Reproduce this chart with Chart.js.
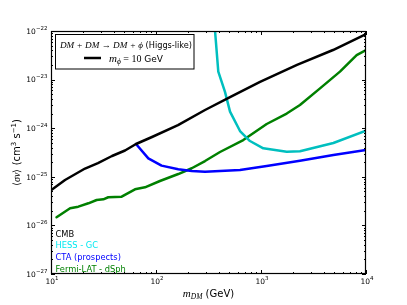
<!DOCTYPE html>
<html>
<head>
<meta charset="utf-8">
<script src="https://cdn.jsdelivr.net/npm/chart.js@4"></script>
<style>
  html, body { margin: 0; padding: 0; background: #fff; }
</style>
</head>
<body>
<canvas id="chart" width="407" height="305"></canvas>
<script>
// --- DATA ---
const xTicks = [10, 100, 1000, 10000];
const xTickExp = [1, 2, 3, 4];
const yTicks = [1e-27, 1e-26, 1e-25, 1e-24, 1e-23, 1e-22];
const yTickExp = [-27, -26, -25, -24, -23, -22];

const cmbMass  = [10, 13.6, 21.1, 28.0, 38.1, 50.7, 64.5, 91.6, 162, 293, 507, 979, 2203, 4850, 10000];
const cmbSigma = [5.3e-26, 8.6e-26, 1.48e-25, 1.92e-25, 2.68e-25, 3.48e-25, 4.73e-25, 6.59e-25, 1.16e-24, 2.37e-24, 4.38e-24, 8.93e-24, 2.0e-23, 4.06e-23, 8.67e-23];

const hessMass  = [365, 392, 454, 507, 631, 785, 1052, 1758, 2350, 4890, 10000];
const hessSigma = [1e-22, 1.46e-23, 5.6e-24, 2.19e-24, 8.75e-25, 5.45e-25, 3.86e-25, 3.27e-25, 3.35e-25, 4.95e-25, 8.9e-25];

const ctaMass  = [64.5, 84.5, 113, 163, 219, 293, 631, 1133, 2350, 4890, 10000];
const ctaSigma = [4.73e-25, 2.4e-25, 1.7e-25, 1.43e-25, 1.32e-25, 1.27e-25, 1.38e-25, 1.66e-25, 2.14e-25, 2.8e-25, 3.56e-25];

const fermiMass  = [11.3, 15.2, 18.2, 22.7, 27.2, 31.5, 35.1, 47.1, 63.1, 78.5, 109, 163, 219, 293, 407, 678, 1133, 1758, 2350, 3648, 5650, 8147, 10000];
const fermiSigma = [1.47e-26, 2.25e-26, 2.43e-26, 2.85e-26, 3.33e-26, 3.44e-26, 3.79e-26, 3.9e-26, 5.53e-26, 6.08e-26, 8.2e-26, 1.14e-25, 1.5e-25, 2.11e-25, 3.24e-25, 5.7e-25, 1.22e-24, 2.0e-24, 3.0e-24, 6.6e-24, 1.46e-23, 3.2e-23, 4.07e-23];

const seriesNames = ["CMB", "HESS - GC", "CTA (prospects)", "Fermi-LAT - dSph"];
const seriesColors = ["#000000", "#00BFBF", "#0000FF", "#008000"];
const textColors = ["#000000", "#00E8F0", "#0000FF", "#008000"];

const pts = (xs, ys) => xs.map((m, i) => ({ x: m, y: ys[i] }));

// --- TEXT HELPERS ---
function drawRuns(ctx, runs, x, y, align) {
  let total = 0;
  runs.forEach(r => { ctx.font = r.font; r.w = ctx.measureText(r.text).width; total += r.w; });
  let cx = align === "center" ? x - total / 2 : align === "right" ? x - total : x;
  runs.forEach(r => { ctx.font = r.font; ctx.fillText(r.text, cx, y + (r.dy || 0)); cx += r.w; });
}

const SANS = "'DejaVu Sans'";
const SERIF = "'Liberation Serif'";
const powRuns = e => [
  { text: "10", font: `7.5px ${SANS}` },
  { text: String(e).replace("-", "\u2212"), font: `5.5px ${SANS}`, dy: -4 }
];

function minorOf(majors) {
  const out = [];
  for (let i = 0; i < majors.length - 1; i++) for (let k = 2; k <= 9; k++) out.push(majors[i] * k);
  return out;
}

// --- FRAME, TICKS, LABELS, LEGEND ---
const frame = {
  id: "frame",
  afterDatasetsDraw(chart) {
    const { ctx, chartArea: a, scales: { x, y } } = chart;
    ctx.save();
    ctx.strokeStyle = "#000";
    ctx.lineWidth = 1;

    ctx.beginPath();
    const xt = (vals, len) => vals.forEach(v => {
      const px = Math.round(x.getPixelForValue(v)) + 0.5;
      ctx.moveTo(px, a.bottom); ctx.lineTo(px, a.bottom - len);
      ctx.moveTo(px, a.top); ctx.lineTo(px, a.top + len);
    });
    const yt = (vals, len) => vals.forEach(v => {
      const py = Math.round(y.getPixelForValue(v)) + 0.5;
      ctx.moveTo(a.left, py); ctx.lineTo(a.left + len, py);
      ctx.moveTo(a.right, py); ctx.lineTo(a.right - len, py);
    });
    xt(xTicks, 4); xt(minorOf(xTicks), 2);
    yt(yTicks, 4); yt(minorOf(yTicks), 2);
    ctx.stroke();

    ctx.lineWidth = 1.2;
    ctx.strokeRect(a.left + 0.5, a.top + 0.5, a.width - 1, a.height - 1);

    // tick labels
    ctx.fillStyle = "#000";
    ctx.textAlign = "left";
    ctx.textBaseline = "alphabetic";
    xTicks.forEach((v, i) => drawRuns(ctx, powRuns(xTickExp[i]), x.getPixelForValue(v) + 1, a.bottom + 9.5, "center"));
    yTicks.forEach((v, i) => drawRuns(ctx, powRuns(yTickExp[i]), a.left - 3.5, y.getPixelForValue(v) + 2.8, "right"));

    // axis titles
    drawRuns(ctx, [
      { text: "m", font: `italic 11px ${SERIF}` },
      { text: "DM", font: `italic 7.5px ${SERIF}`, dy: 2 },
      { text: " (GeV)", font: `10px ${SANS}` }
    ], (a.left + a.right) / 2, 297, "center");

    ctx.save();
    ctx.translate(19.5, (a.top + a.bottom) / 2);
    ctx.rotate(-Math.PI / 2);
    drawRuns(ctx, [
      { text: "\u27E8", font: `10px ${SERIF}` },
      { text: "\u03C3v", font: `italic 10px ${SERIF}` },
      { text: "\u27E9", font: `10px ${SERIF}` },
      { text: " (cm", font: `10px ${SANS}` },
      { text: "3", font: `7px ${SANS}`, dy: -4 },
      { text: " s", font: `10px ${SANS}` },
      { text: "\u22121", font: `7px ${SANS}`, dy: -4 },
      { text: ")", font: `10px ${SANS}` }
    ], 0, 0, "center");
    ctx.restore();

    // legend box
    ctx.fillStyle = "#fff";
    ctx.fillRect(55.5, 34.5, 138.5, 34.5);
    ctx.strokeStyle = "#000";
    ctx.lineWidth = 1;
    ctx.strokeRect(55.5, 34.5, 138.5, 34.5);
    ctx.fillStyle = "#000";
    drawRuns(ctx, [
      { text: "DM + DM \u2192 DM + \u03D5", font: `italic 9.2px ${SERIF}` },
      { text: " (Higgs-like)", font: `8.2px ${SANS}` }
    ], 126, 48, "center");
    ctx.beginPath();
    ctx.lineWidth = 2.5;
    ctx.moveTo(84, 58); ctx.lineTo(101, 58);
    ctx.stroke();
    drawRuns(ctx, [
      { text: "m", font: `italic 11px ${SERIF}` },
      { text: "\u03D5", font: `italic 7.5px ${SERIF}`, dy: 2 },
      { text: " = 10", font: `10px ${SERIF}` },
      { text: " GeV", font: `9px ${SANS}` }
    ], 109, 61.5, "left");

    // series labels bottom-left
    const baselines = [236.7, 248.3, 259.7, 271.5];
    seriesNames.forEach((n, i) => {
      ctx.fillStyle = textColors[i];
      ctx.font = `8.3px ${SANS}`;
      ctx.fillText(n, 55.5, baselines[i]);
    });
    ctx.restore();
  }
};

const datasets = [
  { label: seriesNames[0], data: pts(cmbMass, cmbSigma), borderColor: seriesColors[0] },
  { label: seriesNames[1], data: pts(hessMass, hessSigma), borderColor: seriesColors[1] },
  { label: seriesNames[2], data: pts(ctaMass, ctaSigma), borderColor: seriesColors[2] },
  { label: seriesNames[3], data: pts(fermiMass, fermiSigma), borderColor: seriesColors[3] }
];

new Chart(document.getElementById("chart").getContext("2d"), {
  type: "line",
  data: { datasets },
  options: {
    responsive: false,
    animation: false,
    devicePixelRatio: 1,
    layout: { padding: { left: 51, right: 41, top: 31, bottom: 31 } },
    plugins: { legend: { display: false }, tooltip: { enabled: false } },
    elements: {
      point: { radius: 0 },
      line: { tension: 0, borderWidth: 2.5, fill: false, borderJoinStyle: "round", borderCapStyle: "round" }
    },
    scales: {
      x: { type: "logarithmic", min: 10, max: 10000, display: false },
      y: { type: "logarithmic", min: 1e-27, max: 1e-22, display: false }
    }
  },
  plugins: [frame]
});
</script>
</body>
</html>
